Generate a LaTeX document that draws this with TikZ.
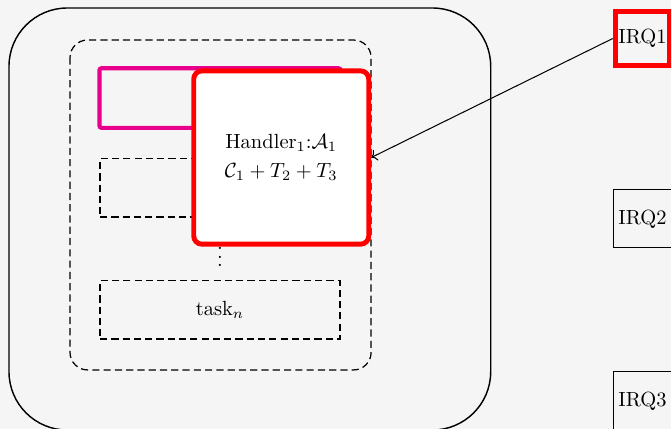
\documentclass[tikz,border=0pt]{standalone}
\usetikzlibrary{arrows.meta}
\definecolor{bggray}{RGB}{245,245,245}
\definecolor{hlpink}{RGB}{232,0,140}
\begin{document}
\begin{tikzpicture}[
    taskbox/.style={rectangle, draw=black, dash pattern=on 3.5pt off 2pt, line width=0.6pt, minimum width=4.11cm, minimum height=1cm, align=center},
    irqbox/.style={rectangle, draw=black, line width=0.5pt, minimum width=1cm, minimum height=1cm, inner sep=1pt},
    hlbox/.style={draw=red, line width=2.4pt, rounded corners=4pt, fill=white, minimum width=3.0cm, minimum height=2.97cm, align=center},
    conn/.style={->, >=To, line width=0.5pt}
]

% page and background
\useasboundingbox (0,0) rectangle (11.5,-7.352);
\fill[bggray] (0,0) rectangle (11.5,-7.352);
\clip (0,0) rectangle (11.5,-7.352);

% CPU / scheduler frame
\draw[line width=0.7pt, rounded corners=1cm] (0.154,-0.137) rectangle (8.41,-7.37);
\draw[dash pattern=on 3.5pt off 2pt, line width=0.6pt, rounded corners=0.3cm] (1.2,-0.686) rectangle (6.36,-6.34);

% Tasks
\node[taskbox] (task1) at (3.77,-1.68) {};
\node[taskbox] (task2) at (3.77,-3.22) {};
\node (dots) at (3.77,-4.30) {$\vdots$};
\node[taskbox] (taskn) at (3.77,-5.31) {task$_n$};

% running task highlighted
\draw[hlpink, line width=2pt, rounded corners=1pt] (task1.south west) rectangle (task1.north east);

% Handler on top of the tasks
\node[hlbox] (handler) at (4.82,-2.70) {Handler$_1$:$\mathcal{A}_1$\\[2pt]$\mathcal{C}_1+T_2+T_3$};

% Interrupt lines
\node[irqbox] (irq1) at (11.01,-0.66) {IRQ1};
\node[irqbox] (irq2) at (11.01,-3.75) {IRQ2};
\node[irqbox] (irq3) at (11.01,-6.87) {IRQ3};
\draw[red, line width=2.4pt] ([shift={(1.2pt,1.2pt)}]irq1.south west) rectangle ([shift={(-1.2pt,-1.2pt)}]irq1.north east);

\draw[conn] (irq1.west) -- (handler.east);

\end{tikzpicture}
\end{document}
